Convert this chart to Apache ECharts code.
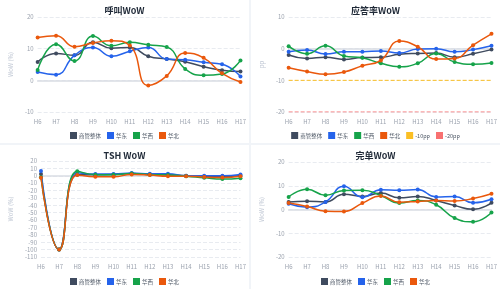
<!DOCTYPE html>
<html><head><meta charset="utf-8">
<script src="https://cdn.jsdelivr.net/npm/echarts@6/dist/echarts.min.js"></script>
<style>
html,body{margin:0;padding:0;background:#fff;}
#wrap{position:relative;width:500px;height:289px;background:#f1f4f8;}
.p{position:absolute;background:#fff;}
</style></head><body>
<div id="wrap">
<div class="p" id="c1" style="left:0;top:0;width:249px;height:143px"></div>
<div class="p" id="c2" style="left:251px;top:0;width:249px;height:143px"></div>
<div class="p" id="c3" style="left:0;top:145px;width:249px;height:144px"></div>
<div class="p" id="c4" style="left:251px;top:145px;width:249px;height:144px"></div>
</div>
<script>
const hours = ['H6','H7','H8','H9','H10','H11','H12','H13','H14','H15','H16','H17'];
const seriesNames = ['商管整体','华东','华西','华北'];
const colors = ['#3f4b5f','#2563eb','#16a34a','#ea580c'];

// 呼叫WoW
const callTotal = [5.8,8.5,7.9,12.0,10.1,10.4,7.6,6.7,5.9,4.3,3.2,2.8];
const callEast  = [2.6,1.8,7.9,10.4,7.6,9.2,10.4,6.7,6.5,5.7,5.1,1.2];
const callWest  = [3.3,11.4,6.1,14.0,10.9,12.0,11.2,10.5,3.6,1.6,2.0,6.3];
const callNorth = [13.5,14.1,10.6,11.8,12.5,11.0,-1.6,1.4,8.6,7.1,2.2,-0.5];

// 应答率WoW
const ansTotal = [-2.0,-3.1,-2.7,-3.4,-2.8,-2.7,-1.8,-1.5,-1.4,-2.7,-1.6,-0.3];
const ansEast  = [-1.0,-0.4,-1.7,-1.0,-1.0,-0.7,-1.4,-0.1,0.0,-1.0,-0.3,0.9];
const ansWest  = [0.8,-1.6,0.9,-2.3,-2.9,-4.6,-5.7,-4.6,-1.5,-4.2,-4.9,-4.5];
const ansNorth = [-6.0,-7.2,-8.1,-7.4,-5.4,-3.7,2.4,0.6,-3.3,-3.1,1.1,4.7];
const ansLine10 = [-10,-10,-10,-10,-10,-10,-10,-10,-10,-10,-10,-10];
const ansLine20 = [-20,-20,-20,-20,-20,-20,-20,-20,-20,-20,-20,-20];

// TSH WoW
const tshTotal = [2.3,-100,1.4,1.4,1.8,3.2,1.8,1.4,0,-0.9,-0.9,0];
const tshEast  = [6.4,-100,4.0,2.3,2.3,3.6,2.7,2.7,0,0,0,1.8];
const tshWest  = [-2.0,-100,6.0,1.5,1.5,3.0,1.5,1.0,-0.5,-2.7,-4.5,-3.2];
const tshNorth = [-2.7,-100,1.0,-1.4,-1.4,1.8,1.0,-0.5,-0.5,-1.8,-2.3,-0.5];

// 完单WoW
const doneTotal = [3.2,3.5,3.2,6.4,5.5,6.9,4.9,5.5,3.8,1.7,0.1,2.8];
const doneEast  = [2.4,1.0,3.2,9.8,5.2,8.3,8.1,8.4,5.3,5.5,2.8,4.3];
const doneWest  = [5.3,8.5,6.0,8.0,8.1,5.9,2.7,3.8,2.0,-3.6,-5.2,-1.3];
const doneNorth = [2.7,1.3,-0.7,-0.8,2.7,5.7,3.1,3.4,3.8,3.6,4.6,6.6];

const FONT = '"Noto Sans CJK SC","Noto Sans",sans-serif';

function lineSeries(name, data, color){
  return {name, type:'line', data, smooth:true, symbol:'circle', symbolSize:4,
    lineStyle:{width:1.5,color}, itemStyle:{color}};
}
function makeOpt(title, yName, ymin, ymax, interval, seriesData, grid, extra){
  const series = seriesData.map((d,i)=>lineSeries(seriesNames[i], d, colors[i]));
  const legendData = seriesNames.map(n=>({name:n, icon:'rect'}));
  if(extra){ extra.forEach(e=>{ series.push(e); legendData.push({name:e.name, icon:'rect'}); }); }
  return {
    animation:false,
    textStyle:{fontFamily:FONT},
    title:{text:title, left:'center', top:1, textStyle:{fontSize:9,fontWeight:'bold',color:'#1f2937',fontFamily:FONT}},
    legend:{data:legendData, bottom:4, padding:0, icon:'rect', itemWidth:7, itemHeight:7, itemGap:6,
      itemStyle:{borderWidth:0},
      textStyle:{fontSize:5.5,color:'#4b5563',fontFamily:FONT,padding:[0,0,0,-3]}},
    grid:grid,
    xAxis:{type:'category', data:hours, boundaryGap:false,
      axisLine:{show:true,onZero:true,lineStyle:{color:'#d9dde4',width:1.5}},
      axisTick:{show:false},
      axisLabel:{fontSize:6,color:'#9ca3af',margin:7,interval:0}},
    yAxis:{type:'value', min:ymin, max:ymax, interval:interval,
      name:yName, nameLocation:'middle', nameGap: (ymin<-50)?21:18,
      nameTextStyle:{fontSize:6,color:'#c3cad6'},
      axisLine:{show:false}, axisTick:{show:false},
      axisLabel:{fontSize:6,color:'#9ca3af',margin:4},
      splitLine:{lineStyle:{type:'dashed',color:'#e8ebf0'}}},
    series:series
  };
}

const c1 = echarts.init(document.getElementById('c1'));
c1.setOption(makeOpt('呼叫WoW','WoW (%)',-10,20,10,[callTotal,callEast,callWest,callNorth],
  {left:27,right:8,top:17,bottom:31}));

const c2 = echarts.init(document.getElementById('c2'));
c2.setOption(makeOpt('应答率WoW','pp',-20,10,10,[ansTotal,ansEast,ansWest,ansNorth],
  {left:26,right:8,top:17,bottom:31},
  [
    {name:'-10pp',type:'line',data:ansLine10,symbol:'none',lineStyle:{type:'dashed',width:1,color:'#fbbf24'},itemStyle:{color:'#fbbf24'}},
    {name:'-20pp',type:'line',data:ansLine20,symbol:'none',lineStyle:{type:'dashed',width:1,color:'#f87171'},itemStyle:{color:'#f87171'}}
  ]));

const c3 = echarts.init(document.getElementById('c3'));
c3.setOption(makeOpt('TSH WoW','WoW (%)',-110,20,10,[tshTotal,tshEast,tshWest,tshNorth],
  {left:29,right:8,top:16,bottom:32}));

const c4 = echarts.init(document.getElementById('c4'));
c4.setOption(makeOpt('完单WoW','WoW (%)',-20,20,10,[doneTotal,doneEast,doneWest,doneNorth],
  {left:26,right:8,top:17,bottom:32}));
</script>
</body></html>
